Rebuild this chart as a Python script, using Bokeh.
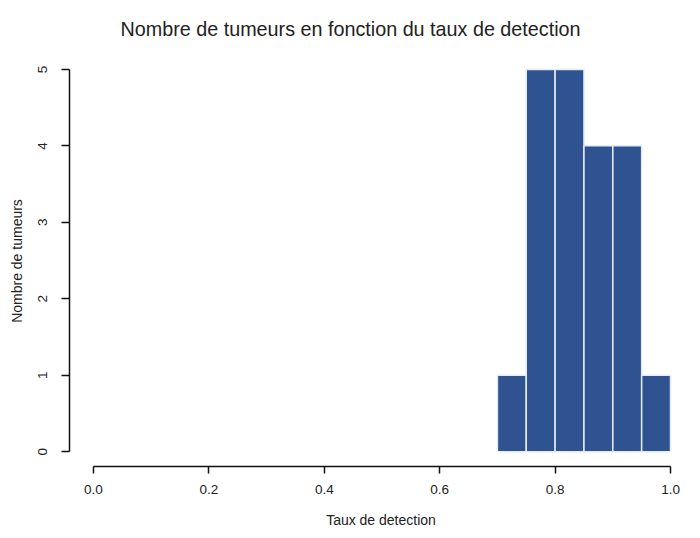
from bokeh.plotting import figure
from bokeh.models import Range1d, FixedTicker, Title
from bokeh.embed import file_html
from bokeh.resources import INLINE

# Data
bin_left = [0.70, 0.75, 0.80, 0.85, 0.90, 0.95]
bin_right = [0.75, 0.80, 0.85, 0.90, 0.95, 1.00]
counts = [1, 5, 5, 4, 4, 1]
x_ticks = [0.0, 0.2, 0.4, 0.6, 0.8, 1.0]
x_tick_labels = ["0.0", "0.2", "0.4", "0.6", "0.8", "1.0"]
y_ticks = [0, 1, 2, 3, 4, 5]
title_text = "Nombre de tumeurs en fonction du taux de detection"

FONT = "Liberation Sans"

p = figure(width=692, height=530, output_backend="svg", toolbar_location=None,
           x_range=Range1d(-0.0416, 1.0381), y_range=Range1d(-0.194, 5.182),
           min_border_left=69, min_border_right=0, min_border_top=55, min_border_bottom=60)
p.title = None
p.add_layout(Title(text=title_text, align="left", vertical_align="top",
                   text_font=FONT, text_font_size="19.75px", text_font_style="normal",
                   text_color="#222222", offset=51, standoff=27), "above")

p.quad(left=bin_left, right=bin_right, top=counts, bottom=[0] * len(counts),
       fill_color="#2f5290", line_color="#e4ecf8", line_width=1.5)

p.xgrid.visible = False
p.ygrid.visible = False
p.outline_line_color = None
p.background_fill_color = "white"
p.border_fill_color = "white"

xa = p.xaxis[0]
xa.ticker = FixedTicker(ticks=x_ticks)
xa.major_label_overrides = {t: l for t, l in zip(x_ticks, x_tick_labels)}
xa.bounds = (0, 1)
xa.minor_tick_line_color = None
xa.major_tick_in = 0
xa.major_tick_out = 7
xa.major_label_standoff = 11
xa.axis_line_color = "#111111"
xa.major_tick_line_color = "#111111"
xa.axis_line_width = 1.5
xa.major_tick_line_width = 1.5
xa.major_label_text_font = FONT
xa.major_label_text_font_size = "13.5px"
xa.major_label_text_color = "#222222"
xa.axis_label = "Taux de detection"
xa.axis_label_text_font = FONT
xa.axis_label_text_font_style = "normal"
xa.axis_label_text_font_size = "14px"
xa.axis_label_text_color = "#222222"
xa.axis_label_standoff = 15

ya = p.yaxis[0]
ya.ticker = FixedTicker(ticks=y_ticks)
ya.bounds = (0, 5)
ya.minor_tick_line_color = None
ya.major_tick_in = 0
ya.major_tick_out = 8
ya.major_label_standoff = 14
ya.major_label_orientation = "vertical"
ya.axis_line_color = "#111111"
ya.major_tick_line_color = "#111111"
ya.axis_line_width = 1.5
ya.major_tick_line_width = 1.5
ya.major_label_text_font = FONT
ya.major_label_text_font_size = "13.5px"
ya.major_label_text_color = "#222222"
ya.axis_label = "Nombre de tumeurs"
ya.axis_label_text_font = FONT
ya.axis_label_text_font_style = "normal"
ya.axis_label_text_font_size = "14px"
ya.axis_label_text_color = "#222222"
ya.axis_label_standoff = 11

open("out.html", "w").write(file_html(p, INLINE))
